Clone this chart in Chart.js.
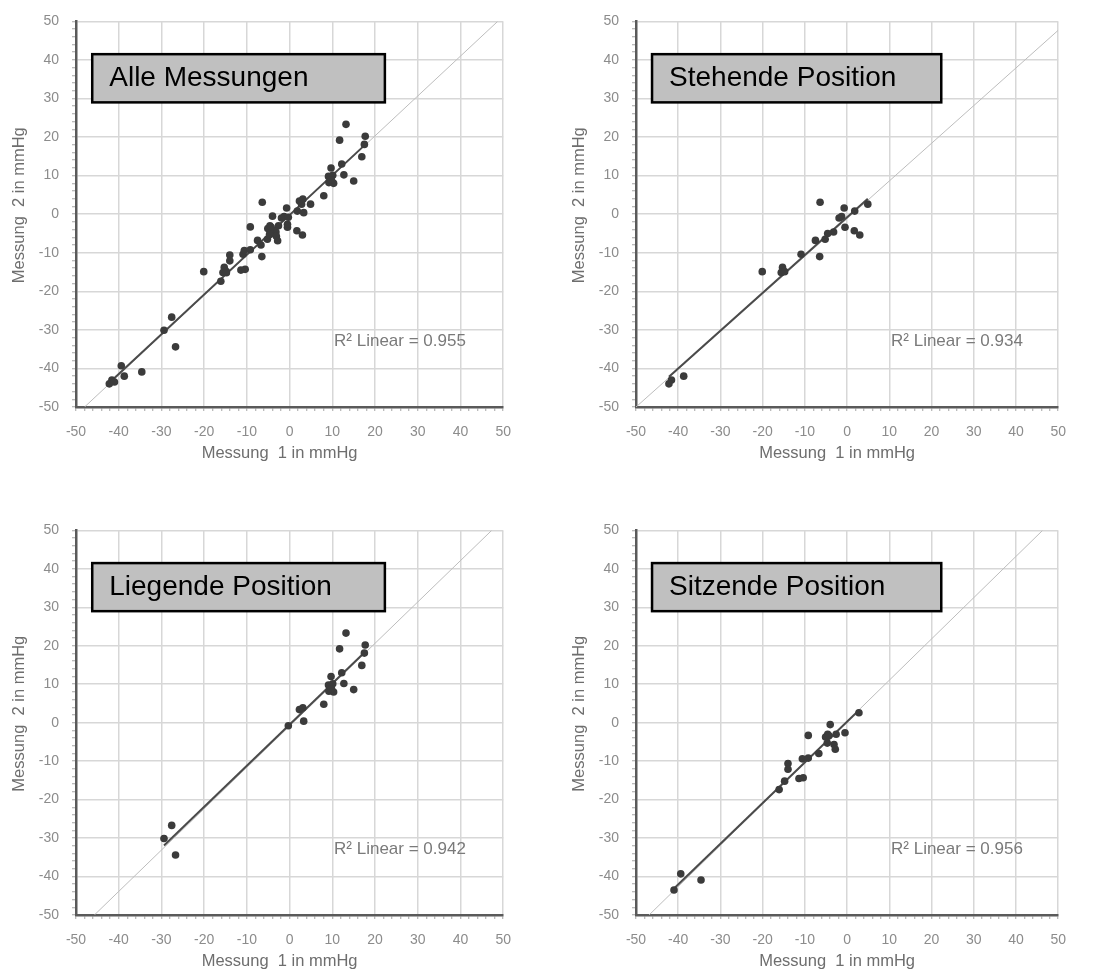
<!DOCTYPE html>
<html>
<head>
<meta charset="utf-8">
<script src="https://cdn.jsdelivr.net/npm/chart.js@4.4.0/dist/chart.umd.min.js"></script>
<style>
  body { margin: 0; background: #fff; width: 1107px; height: 972px; overflow: hidden; position: relative; }
  canvas { position: absolute; }
</style>
</head>
<body>
<canvas id="cAlle" width="524" height="467" style="left:0;top:0"></canvas>
<canvas id="cStehend" width="519" height="467" style="left:560px;top:0"></canvas>
<canvas id="cLiegend" width="524" height="466" style="left:0;top:509px"></canvas>
<canvas id="cSitzend" width="519" height="466" style="left:560px;top:509px"></canvas>
<script>
// Messwertpaare [Messung 1, Messung 2] in mmHg
const stehend = [
  [-6.4, 3.1], [-0.7, 1.6], [4.9, 2.6], [1.8, 0.8], [-1.9, -1.0], [-1.3, -0.6],
  [-0.5, -3.4], [1.7, -4.3], [3.0, -5.4], [-3.2, -4.6], [-4.6, -5.0], [-5.2, -6.5],
  [-7.5, -6.8], [-6.5, -11.0], [-10.9, -10.4], [-20.1, -14.9], [-15.3, -13.8],
  [-15.6, -15.1], [-14.8, -14.9], [-41.6, -43.0], [-42.2, -44.0], [-38.7, -42.0]
];
const liegend = [
  [13.2, 23.3], [11.7, 19.2], [17.7, 20.2], [17.5, 18.1], [16.9, 14.9], [12.2, 13.0],
  [12.7, 10.2], [15.0, 8.6], [9.7, 12.0], [9.1, 9.8], [9.6, 9.4], [10.1, 10.1],
  [9.2, 8.2], [10.3, 8.0], [9.8, 8.8], [8.0, 4.8], [2.3, 3.4], [3.1, 3.9],
  [3.3, 0.4], [-0.3, -0.8], [-27.6, -26.7], [-29.4, -30.1], [-26.7, -34.4]
];
const sitzend = [
  [2.8, 2.6], [-4.0, -0.5], [-0.5, -2.6], [-2.6, -3.0], [-4.6, -3.0], [-5.1, -3.7],
  [-4.3, -3.4], [-4.7, -5.3], [-3.1, -5.7], [-2.8, -6.9], [-9.2, -3.3], [-6.7, -8.0],
  [-10.6, -9.4], [-9.2, -9.2], [-14.0, -10.6], [-14.0, -12.1], [-11.4, -14.5],
  [-10.4, -14.3], [-14.8, -15.2], [-16.1, -17.4], [-39.4, -39.3], [-34.6, -40.9], [-41.0, -43.5]
];

// Bezugslinien (Endpunkte) je Diagramm
const diagAlle = [[-48.0, -50], [48.7, 50]];
const diagStehend = [[-50, -50], [50, 47.7]];
const diagLiegend = [[-45.7, -50], [47.3, 50]];
const diagSitzend = [[-46.9, -50], [46.3, 50]];

const titel = ['Alle Messungen', 'Stehende Position', 'Liegende Position', 'Sitzende Position'];
const r2Werte = ['0.955', '0.934', '0.942', '0.956'];
const achsenTitelX = 'Messung  1 in mmHg';
const achsenTitelY = 'Messung  2 in mmHg';

const schrift = '"Liberation Sans", Arial, sans-serif';

// lineare Regression über die Punkte, gezeichnet vom kleinsten bis zum größten x
function regression(pts) {
  let n = pts.length, sx = 0, sy = 0, sxx = 0, sxy = 0;
  pts.forEach(([x, y]) => { sx += x; sy += y; sxx += x * x; sxy += x * y; });
  const b = (n * sxy - sx * sy) / (n * sxx - sx * sx);
  const a = (sy - b * sx) / n;
  const xs = pts.map(p => p[0]);
  const x0 = Math.min(...xs), x1 = Math.max(...xs);
  return [{x: x0, y: a + b * x0}, {x: x1, y: a + b * x1}];
}

// Kasten mit Überschrift, R²-Text und Achsentitel
const beschriftung = {
  id: 'beschriftung',
  afterDatasetsDraw(chart, args, opts) {
    const {ctx, chartArea: ca, scales: {x, y}} = chart;
    const l = x.getPixelForValue(-46.2), r = x.getPixelForValue(22.3);
    const t = y.getPixelForValue(41.5), b = y.getPixelForValue(29);
    ctx.save();
    ctx.fillStyle = '#c0c0c0';
    ctx.fillRect(l, t, r - l, b - t);
    ctx.strokeStyle = '#000';
    ctx.lineWidth = 2.5;
    ctx.strokeRect(l, t, r - l, b - t);
    ctx.fillStyle = '#000';
    ctx.font = '28px ' + schrift;
    ctx.textBaseline = 'alphabetic';
    ctx.fillText(opts.titel, l + 17, t + 32);

    ctx.fillStyle = '#7a7a7a';
    ctx.font = '17px ' + schrift;
    ctx.textBaseline = 'middle';
    ctx.fillText('R² Linear = ' + opts.r2, x.getPixelForValue(10.4), y.getPixelForValue(-33));

    // Achsentitel
    ctx.fillStyle = '#6e6e6e';
    ctx.font = '16.5px ' + schrift;
    ctx.textAlign = 'center';
    ctx.fillText(achsenTitelX, (ca.left + ca.right) / 2 - 10, ca.bottom + 46);
    ctx.translate(ca.left - 57, (ca.top + ca.bottom) / 2 - 9);
    ctx.rotate(-Math.PI / 2);
    ctx.fillText(achsenTitelY, 0, 0);
    ctx.restore();
  }
};

function achse(horizontal) {
  return {
    type: 'linear', min: -50, max: 50,
    ticks: {
      stepSize: 2, autoSkip: false, maxRotation: 0, padding: 13,
      color: '#8c8c8c', font: {family: schrift, size: 14},
      callback: v => Math.round(v) % 10 === 0 ? Math.round(v) : ''
    },
    grid: {
      color: c => (c.tick && Math.round(c.tick.value) % 10 === 0) ? '#d7d7d7' : 'rgba(0,0,0,0)',
      lineWidth: 1.5, tickLength: 4, tickColor: '#a5a5a5', tickWidth: 1
    },
    border: {display: true, color: '#5a5a5a', width: 2.5},
    title: {display: false},
    afterFit: s => { if (horizontal) s.height = 60; else s.width = 76; }
  };
}

function panel(id, punkte, diag, i, padTop) {
  new Chart(document.getElementById(id), {
    type: 'scatter',
    data: {
      datasets: [
        {data: diag.map(([x, y]) => ({x, y})), showLine: true, borderColor: '#bdbdbd',
         borderWidth: 1, pointRadius: 0, order: 3},
        {data: regression(punkte), showLine: true, borderColor: '#4a4a4a',
         borderWidth: 2, pointRadius: 0, order: 2},
        {data: punkte.map(([x, y]) => ({x, y})), backgroundColor: '#3b3b3b',
         borderColor: '#3b3b3b', borderWidth: 0, pointRadius: 3.8, order: 1}
      ]
    },
    options: {
      responsive: false,
      animation: false,
      layout: {padding: {top: padTop, right: 20, left: 0, bottom: 0}},
      plugins: {
        legend: {display: false},
        tooltip: {enabled: false},
        beschriftung: {titel: titel[i], r2: r2Werte[i]}
      },
      scales: {
        x: achse(true),
        y: achse(false)
      }
    },
    plugins: [beschriftung]
  });
}

panel('cAlle', stehend.concat(liegend, sitzend), diagAlle, 0, 17);
panel('cStehend', stehend, diagStehend, 1, 16);
panel('cLiegend', liegend, diagLiegend, 2, 17);
panel('cSitzend', sitzend, diagSitzend, 3, 16);
</script>
</body>
</html>
